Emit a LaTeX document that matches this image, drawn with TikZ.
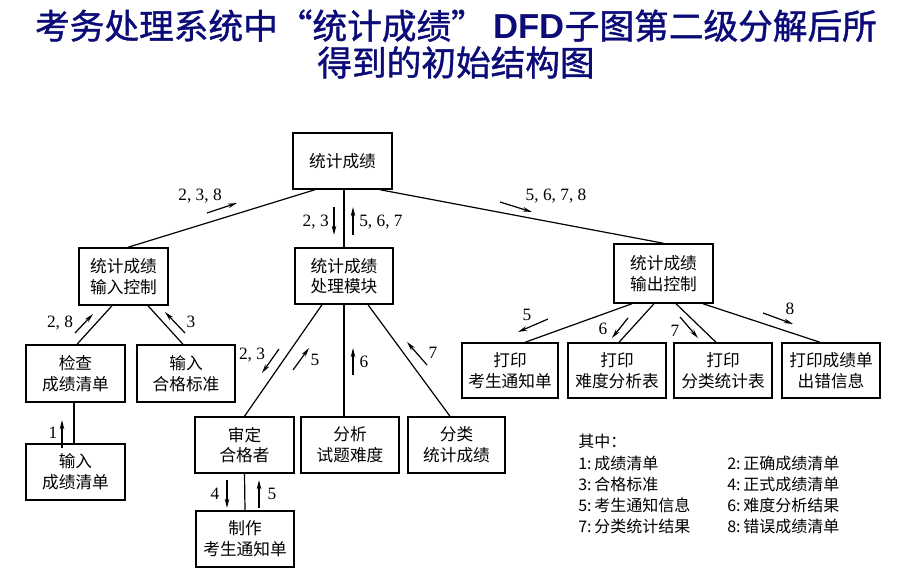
\documentclass[tikz,border=0pt]{standalone}
\usepackage{fontspec}
\setmainfont{Liberation Serif}
\newfontfamily\cjk{Noto Sans CJK SC}
\newfontfamily\cjktitle{Noto Sans CJK SC}[FakeBold=1.2]
\newfontfamily\titlelat{Liberation Sans}
\newcommand\mytitlefont{\cjktitle\fontsize{26}{27.5}\selectfont\lineskiplimit-30pt\relax}
\usetikzlibrary{arrows.meta,calc}
\definecolor{titleblue}{RGB}{12,12,120}
\begin{document}
\begin{tikzpicture}[x=0.75pt,y=-0.75pt,
  box/.style={draw, line width=1.1pt, minimum width=73.5pt, minimum height=42pt, inner sep=0pt, align=center, font=\cjk\fontsize{12.5}{15.5}\selectfont},
  link/.style={line width=0.9pt},
  flow/.style={line width=0.9pt, -{Stealth[length=7pt,width=3.4pt]}},
  num/.style={font=\fontsize{13}{15}\selectfont, inner sep=0pt},
  leg/.style={font=\cjk\fontsize{12}{14}\selectfont, anchor=west, inner sep=0pt},
  ttl/.style={font=\mytitlefont, text=titleblue, inner sep=0pt, align=center}]
\useasboundingbox (0,0) rectangle (899,588);

% title
\node[ttl] (title) at (456,44) {考务处理系统中“统计成绩” {\titlelat\bfseries DFD}子图第二级分解后所\\得到的初始结构图};

% boxes
\node[box, minimum width=74.25pt] (top) at (342.5,161) {统计成绩};
\node[box] (proc) at (344,276) {统计成绩\\处理模块};
\node[box, minimum width=66.75pt, minimum height=42.75pt] (inctl) at (123.5,276.5) {统计成绩\\输入控制};
\node[box, minimum width=74.25pt, minimum height=44.25pt] (outctl) at (663.5,273.5) {统计成绩\\输出控制};
\node[box, minimum width=74.25pt, minimum height=42.75pt] (check) at (75.5,373.5) {检查\\成绩清单};
\node[box, minimum height=42.75pt] (std) at (186,373.5) {输入\\合格标准};
\node[box, minimum width=74.25pt] (inscore) at (75.5,472) {输入\\成绩清单};
\node[box, minimum width=74.25pt] (judge) at (244.5,445) {审定\\合格者};
\node[box] (anal) at (350,445) {分析\\试题难度};
\node[box, minimum width=72.75pt] (cls) at (456.5,445) {分类\\统计成绩};
\node[box] (make) at (245,539) {制作\\考生通知单};
\node[box, minimum width=72pt, minimum height=41.25pt] (p1) at (510,370.5) {打印\\考生通知单};
\node[box, minimum height=41.25pt] (p2) at (617,370.5) {打印\\难度分析表};
\node[box, minimum height=41.25pt] (p3) at (723,370.5) {打印\\分类统计表};
\node[box, minimum height=41.25pt] (p4) at (831,370.5) {打印成绩单\\出错信息};

% connectors
\draw[link] ($(top.south)+(-27.5,0)$) -- ($(inctl.north)+(4.5,0)$);
\draw[link] (proc.north) -- (proc.north |- top.south);
\draw[link] ($(top.south)+(37.5,0)$) -- (outctl.north);
\draw[link] ($(inctl.south)+(-11.5,0)$) -- ($(check.north)+(1.5,0)$);
\draw[link] ($(inctl.south)+(24.5,0)$) -- ($(std.north)+(-3,0)$);
\draw[link] ($(check.south)+(-1.5,0)$) -- ($(inscore.north)+(-1.5,0)$);
\draw[link] ($(proc.south)+(-22,0)$) -- (judge.north);
\draw[link] (proc.south) -- (proc.south |- anal.north);
\draw[link] ($(proc.south)+(24,0)$) -- ($(cls.north)+(-6.5,0)$);
\draw[link] (judge.south) -- (make.north);
\draw[link] ($(outctl.south)+(-31.5,0)$) -- ($(p1.north)+(15,0)$);
\draw[link] ($(outctl.south)+(-9.5,0)$) -- ($(p2.north)+(2,0)$);
\draw[link] ($(outctl.south)+(12.5,0)$) -- ($(p3.north)+(-7,0)$);
\draw[link] ($(outctl.south)+(39.5,0)$) -- ($(p4.north)+(-11,0)$);

% flow arrows and labels
\draw[flow] (207,213) -- (237,203);
\node[num] (l1) at (200,196) {2, 3, 8};
\draw[flow] (334,207) -- (334,235);
\node[num, anchor=east] (l2) at (329,222) {2, 3};
\draw[flow] (353,235) -- (353,207);
\node[num, anchor=west] (l3) at (359,222) {5, 6, 7};
\draw[flow] (500,202) -- (532,212);
\node[num] (l4) at (556,196) {5, 6, 7, 8};
\draw[flow] (75,333) -- (93,314);
\node[num] (l5) at (60,323) {2, 8};
\draw[flow] (185,333) -- (165,312);
\node[num] (l6) at (191,322) {3};
\draw[flow] (62,448) -- (62,420);
\node[num] (l7) at (53,433) {1};
\draw[flow] (279,349) -- (262,373);
\node[num] (l8) at (252,355) {2, 3};
\draw[flow] (293,370) -- (309,348);
\node[num] (l9) at (315,360) {5};
\draw[flow] (353,375) -- (353,348);
\node[num] (l10) at (364,362) {6};
\draw[flow] (427,365) -- (407,342);
\node[num] (l11) at (433,353) {7};
\draw[flow] (227,480) -- (227,508);
\node[num] (l12) at (215,494) {4};
\draw[flow] (259,508) -- (259,480);
\node[num] (l13) at (272,494) {5};
\draw[flow] (548,319) -- (518,332);
\node[num] (l14) at (527,315) {5};
\draw[flow] (628,318) -- (612,338);
\node[num] (l15) at (603,329) {6};
\draw[flow] (680,317) -- (698,338);
\node[num] (l16) at (675,331) {7};
\draw[flow] (763,313) -- (793,324);
\node[num] (l17) at (790,309) {8};

% legend
\node[leg] (g0) at (578,441) {其中：};
\node[leg] (g1) at (578,463) {1:\,成绩清单};
\node[leg] (g3) at (578,484) {3:\,合格标准};
\node[leg] (g5) at (578,505) {5:\,考生通知信息};
\node[leg] (g7) at (578,526) {7:\,分类统计结果};
\node[leg] (g2) at (727,463) {2:\,正确成绩清单};
\node[leg] (g4) at (727,484) {4:\,正式成绩清单};
\node[leg] (g6) at (727,505) {6:\,难度分析结果};
\node[leg] (g8) at (727,526) {8:\,错误成绩清单};
\end{tikzpicture}
\end{document}
